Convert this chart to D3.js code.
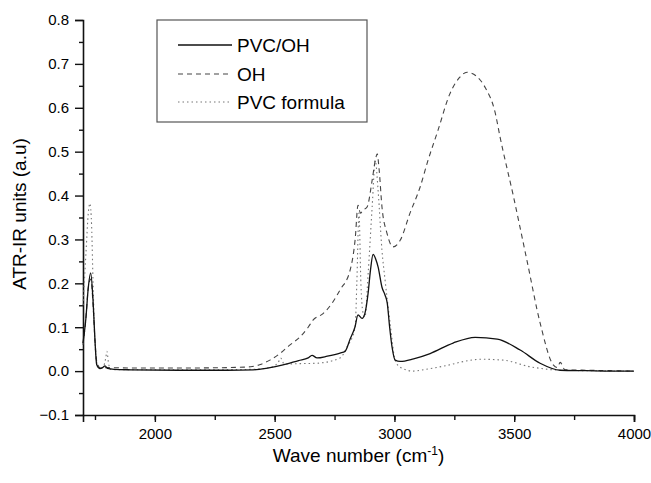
<!DOCTYPE html>
<html>
<head>
<meta charset="utf-8">
<script src="https://cdn.jsdelivr.net/npm/d3@7"></script>
<style>
  body { margin: 0; background: #fff; }
  text { font-family: "Liberation Sans", Arial, sans-serif; fill: #000; }
</style>
</head>
<body>
<div id="chart"></div>
<script>
// wavenumber (cm-1) / absorbance
const pvcOhX = [1700, 1712, 1722, 1732, 1742, 1750, 1757, 1770, 1782, 1792, 1802, 1830, 1900, 2100, 2300, 2410, 2470, 2535, 2600, 2640, 2656, 2677, 2720, 2773, 2794, 2815, 2835, 2848, 2865, 2877, 2890, 2900, 2911, 2922, 2932, 2948, 2961, 2970, 2980, 2990, 3003, 3024, 3080, 3149, 3245, 3337, 3429, 3525, 3608, 3692, 3800, 3900, 4000];
const pvcOhY = [0.064, 0.12, 0.19, 0.224, 0.16, 0.07, 0.015, 0.006, 0.008, 0.012, 0.006, 0.004, 0.003, 0.002, 0.002, 0.003, 0.007, 0.014, 0.024, 0.03, 0.036, 0.03, 0.034, 0.041, 0.045, 0.073, 0.1, 0.128, 0.12, 0.132, 0.177, 0.23, 0.266, 0.255, 0.237, 0.191, 0.173, 0.155, 0.1, 0.055, 0.025, 0.022, 0.028, 0.04, 0.064, 0.077, 0.073, 0.048, 0.018, 0.002, 0.001, 0.0, 0.0];

const ohX = [1700, 1712, 1722, 1733, 1742, 1750, 1758, 1775, 1800, 1900, 2100, 2300, 2400, 2440, 2480, 2522, 2560, 2606, 2640, 2660, 2702, 2740, 2773, 2815, 2836, 2848, 2858, 2869, 2886, 2907, 2920, 2928, 2936, 2948, 2969, 2994, 3024, 3065, 3107, 3140, 3182, 3230, 3270, 3303, 3340, 3380, 3420, 3441, 3496, 3554, 3608, 3663, 3680, 3692, 3712, 3800, 3900, 4000];
const ohY = [0.06, 0.12, 0.19, 0.21, 0.15, 0.07, 0.02, 0.006, 0.008, 0.007, 0.007, 0.008, 0.01, 0.015, 0.025, 0.04, 0.058, 0.078, 0.1, 0.116, 0.131, 0.155, 0.185, 0.23, 0.3, 0.378, 0.36, 0.367, 0.374, 0.435, 0.48, 0.495, 0.46, 0.374, 0.314, 0.283, 0.298, 0.36, 0.419, 0.48, 0.549, 0.63, 0.668, 0.681, 0.673, 0.645, 0.59, 0.533, 0.4, 0.25, 0.11, 0.014, 0.008, 0.02, 0.003, 0.002, 0.001, 0.0];

const pvcFX = [1700, 1713, 1722, 1729, 1736, 1742, 1750, 1758, 1770, 1785, 1795, 1800, 1806, 1815, 1850, 2000, 2200, 2400, 2480, 2515, 2525, 2540, 2600, 2677, 2773, 2802, 2836, 2843, 2852, 2860, 2868, 2877, 2890, 2907, 2920, 2932, 2948, 2961, 2982, 3003, 3024, 3078, 3140, 3220, 3290, 3358, 3454, 3566, 3692, 3800, 4000];
const pvcFY = [0.15, 0.275, 0.36, 0.382, 0.33, 0.2, 0.064, 0.018, 0.006, 0.01, 0.03, 0.045, 0.02, 0.004, 0.003, 0.003, 0.003, 0.004, 0.008, 0.02, 0.03, 0.016, 0.017, 0.018, 0.03, 0.055, 0.1, 0.2, 0.36, 0.2, 0.135, 0.123, 0.22, 0.374, 0.48, 0.41, 0.275, 0.207, 0.109, 0.025, 0.009, 0.0, 0.005, 0.013, 0.022, 0.027, 0.025, 0.01, 0.002, 0.001, 0.0];

const xTicks = [2000, 2500, 3000, 3500, 4000];
const yTicks = [-0.1, 0.0, 0.1, 0.2, 0.3, 0.4, 0.5, 0.6, 0.7, 0.8];
const seriesNames = ['PVC/OH', 'OH', 'PVC formula'];

const W = 651, H = 483;
const margin = {left: 83, right: 17, top: 20, bottom: 68};
const width = W - margin.left - margin.right;
const height = H - margin.top - margin.bottom;

const svg = d3.select('#chart').append('svg')
    .attr('width', W)
    .attr('height', H);

const g = svg.append('g')
    .attr('transform', `translate(${margin.left}, ${margin.top})`);

const xScale = d3.scaleLinear().domain([1700, 4000]).range([0, width]);
const yScale = d3.scaleLinear().domain([-0.1, 0.8]).range([height, 0]);

// minor ticks first, major on top
g.append('g')
    .attr('transform', `translate(0, ${height})`)
    .call(d3.axisBottom(xScale).tickValues(d3.range(1750, 4001, 250)).tickSize(5).tickFormat(''))
    .call(a => a.select('.domain').remove());
g.append('g')
    .call(d3.axisLeft(yScale).tickValues(d3.range(-0.05, 0.8, 0.1)).tickSize(4).tickFormat(''))
    .call(a => a.select('.domain').remove());

const xAxis = g.append('g')
    .attr('transform', `translate(0, ${height})`)
    .call(d3.axisBottom(xScale).tickValues(xTicks).tickSize(7).tickPadding(6).tickFormat(d3.format('d')));
const yAxis = g.append('g')
    .call(d3.axisLeft(yScale).tickValues(yTicks).tickSize(8).tickPadding(6).tickFormat(d3.format('.1f')));

[xAxis, yAxis].forEach(a => {
    a.selectAll('.domain').attr('stroke-width', 1.6).attr('stroke', '#111');
    a.selectAll('text').style('font-size', '15px').style('fill', '#000');
});
g.selectAll('.tick line').attr('stroke', '#111').attr('stroke-width', 1.4);

const line = xs => d3.line()
    .x((d, i) => xScale(xs[i]))
    .y(d => yScale(d))
    .curve(d3.curveMonotoneX);

const styles = [
    {xs: pvcOhX, ys: pvcOhY, color: '#111', dash: null, w: 1.3},
    {xs: ohX, ys: ohY, color: '#444', dash: '5 4', w: 1.1},
    {xs: pvcFX, ys: pvcFY, color: '#777', dash: '1.5 3', w: 1.1}
];

// draw dotted and dashed behind the solid one
[2, 1, 0].forEach(k => {
    const s = styles[k];
    g.append('path')
        .datum(s.ys)
        .attr('fill', 'none')
        .attr('stroke', s.color)
        .attr('stroke-width', s.w)
        .attr('stroke-dasharray', s.dash)
        .attr('d', line(s.xs));
});

// legend
const legend = svg.append('g');
legend.append('rect')
    .attr('x', 157).attr('y', 20)
    .attr('width', 210).attr('height', 102)
    .attr('fill', '#fff')
    .attr('stroke', '#555')
    .attr('stroke-width', 1.2);
const rowY = [45, 74, 102];
seriesNames.forEach((name, i) => {
    legend.append('line')
        .attr('x1', 178).attr('x2', 232)
        .attr('y1', rowY[i]).attr('y2', rowY[i])
        .attr('stroke', styles[i].color)
        .attr('stroke-width', styles[i].w)
        .attr('stroke-dasharray', styles[i].dash);
    legend.append('text')
        .attr('x', 237).attr('y', rowY[i] + 7)
        .style('font-size', '19px')
        .text(name);
});

// axis titles
const xt = svg.append('text')
    .attr('x', margin.left + width / 2)
    .attr('y', 462)
    .attr('text-anchor', 'middle')
    .style('font-size', '19px');
xt.append('tspan').text('Wave number (cm');
xt.append('tspan').attr('dy', -7).style('font-size', '12px').text('-1');
xt.append('tspan').attr('dy', 7).text(')');

svg.append('text')
    .attr('transform', 'translate(26, 214) rotate(-90)')
    .attr('text-anchor', 'middle')
    .style('font-size', '19px')
    .text('ATR-IR units (a.u)');
</script>
</body>
</html>
